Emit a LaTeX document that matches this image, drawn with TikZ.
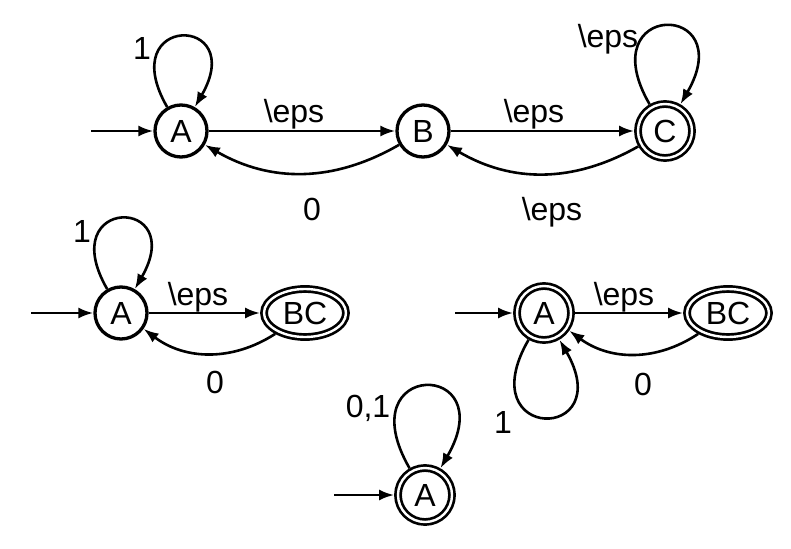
\documentclass[tikz,border=0pt]{standalone}
\usepackage{fontspec}
\setmainfont{Liberation Sans}
\usetikzlibrary{arrows.meta,shapes.geometric}
\begin{document}
\begin{tikzpicture}[x=1pt,y=1pt,
  >={Latex[length=15pt,width=11pt]},
  every node/.style={font=\fontsize{32}{38}\selectfont},
  st/.style={circle,draw,line width=3.3pt,minimum size=52pt,inner sep=0pt},
  acc/.style={circle,draw,double,line width=2.7pt,double distance=2.4pt,minimum size=54pt,inner sep=0pt,outer sep=3.9pt},
  accell/.style={ellipse,draw,double,line width=2.7pt,double distance=2.4pt,minimum width=82pt,minimum height=48pt,inner sep=0pt,outer sep=3.9pt},
  conn/.style={->,line width=2.6pt},
  lbl/.style={anchor=base,inner sep=0pt}]
\useasboundingbox (0,0) rectangle (791,-548);

% nodes
\node[st] (A1) at (181,-131) {A};
\node[st] (B) at (423,-131) {B};
\node[acc] (C) at (665,-131) {C};
\node[st] (A2) at (121,-313) {A};
\node[accell] (BC2) at (305,-313) {BC};
\node[acc] (A3) at (544,-313) {A};
\node[accell] (BC3) at (728,-313) {BC};
\node[acc] (A4) at (425,-495) {A};

% initial arrow starts
\coordinate (i1) at (91,-131);
\coordinate (i2) at (31,-313);
\coordinate (i3) at (455,-313);
\coordinate (i4) at (334,-495);

% top automaton
\draw[conn] (i1) -- (A1);
\draw[conn] (A1) -- (B);
\draw[conn] (B) -- (C);
\draw[conn] (B) to[bend left=30] (A1);
\draw[conn] (C) to[bend left=30] (B);
\draw[conn] (A1.120) .. controls +(120:108) and +(60:108) .. (A1.60);
\draw[conn] (C.120) .. controls +(120:120) and +(60:120) .. (C.60);
\node[lbl] (l1) at (142,-60) {1};
\node[lbl] (l2) at (294,-123) {\textbackslash eps};
\node[lbl] (l3) at (534,-123) {\textbackslash eps};
\node[lbl] (l4) at (312,-220) {0};
\node[lbl] (l5) at (552,-220) {\textbackslash eps};
\node[lbl] (l6) at (608,-48) {\textbackslash eps};

% middle left
\draw[conn] (i2) -- (A2);
\draw[conn] (A2) -- (BC2);
\draw[conn] (BC2) to[bend left=35] (A2);
\draw[conn] (A2.120) .. controls +(120:108) and +(60:108) .. (A2.60);
\node[lbl] (l7) at (82,-242) {1};
\node[lbl] (l8) at (198,-305) {\textbackslash eps};
\node[lbl] (l9) at (215,-393) {0};

% middle right
\draw[conn] (i3) -- (A3);
\draw[conn] (A3) -- (BC3);
\draw[conn] (BC3) to[bend left=35] (A3);
\draw[conn] (A3.240) .. controls +(240:119) and +(300:119) .. (A3.300);
\node[lbl] (l10) at (624,-305) {\textbackslash eps};
\node[lbl] (l11) at (643,-395) {0};
\node[lbl] (l12) at (503,-433) {1};

% bottom
\draw[conn] (i4) -- (A4);
\draw[conn] (A4.120) .. controls +(120:126) and +(60:126) .. (A4.60);
\node[lbl] (l13) at (368,-417) {0,1};
\end{tikzpicture}
\end{document}
